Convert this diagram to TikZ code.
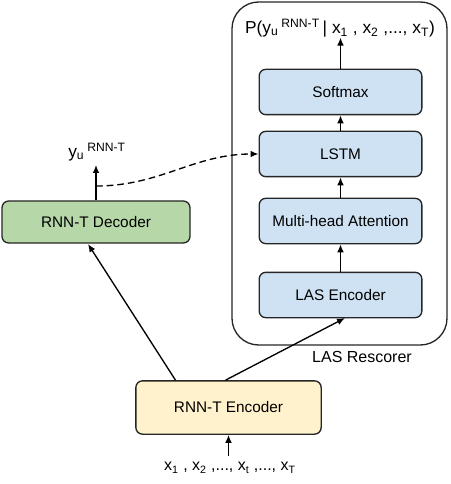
\documentclass[tikz,border=0pt]{standalone}
\usepackage{fontspec}
\setmainfont{Liberation Sans}
\usetikzlibrary{arrows.meta}
\definecolor{lasblue}{HTML}{CFE2F3}
\definecolor{decgreen}{HTML}{B6D7A8}
\definecolor{encyellow}{HTML}{FFF2CC}
\begin{document}
\begin{tikzpicture}[x=0.75pt,y=-0.75pt,
    line width=1pt,
    >={Latex[length=6pt,width=5pt]},
    blk/.style={draw=black!85,rounded corners=5pt,align=center,
        font=\fontsize{11.5}{13}\selectfont,inner sep=0pt},
    lasblk/.style={blk,fill=lasblue,minimum width=122pt,minimum height=34pt},
    lbl/.style={inner sep=0pt,font=\fontsize{12}{14}\selectfont}]
\useasboundingbox (0,0) rectangle (450,484);

% LAS rescorer frame
\draw[rounded corners=20pt,black!85] (232,2) rectangle (447,345);
\node[lbl] (rescorer) at (362,357) {LAS Rescorer};

% rescorer stack
\node[lasblk] (softmax) at (340.5,92) {Softmax};
\node[lasblk] (lstm) at (340.5,154) {LSTM};
\node[lasblk] (mha) at (340.5,221) {Multi-head Attention};
\node[lasblk] (lasenc) at (340.5,295) {LAS Encoder};
\node[lbl,font=\fontsize{13}{15}\selectfont] (prob) at (340,28)
    {P(y\textsubscript{u}\,\textsuperscript{RNN-T}\,| x\textsubscript{1} , x\textsubscript{2} ,..., x\textsubscript{T})};

% RNN-T side
\node[blk,fill=decgreen,minimum width=141pt,minimum height=31.5pt] (dec) at (96,222) {RNN-T Decoder};
\node[blk,fill=encyellow,minimum width=139pt,minimum height=40pt] (enc) at (228.5,407.5) {RNN-T Encoder};
\node[lbl,font=\fontsize{13}{15}\selectfont] (yu) at (97,152) {y\textsubscript{u}\,\textsuperscript{RNN-T}};
\node[lbl] (xin) at (230,468) {x\textsubscript{1} , x\textsubscript{2} ,..., x\textsubscript{t} ,..., x\textsubscript{T}};
\coordinate (tap) at (96,186);

% connections
\draw[->] (xin.north -| enc) ++(0,-6) -- (enc.south);
\draw[->] (enc.north) ++(-53,0) -- (88,244);
\draw[->] (enc.north) ++(-3,0) -- (345,318);
\draw[->] (dec.north) -- (96,165);
\draw[->] (lasenc) -- (mha);
\draw[->] (mha) -- (lstm);
\draw[->] (lstm) -- (softmax);
\draw[->] (softmax) -- (prob.south -| softmax);
\draw[->,dashed,dash pattern=on 5pt off 3pt] (tap) to[out=0,in=180] (lstm.west);
\end{tikzpicture}
\end{document}
